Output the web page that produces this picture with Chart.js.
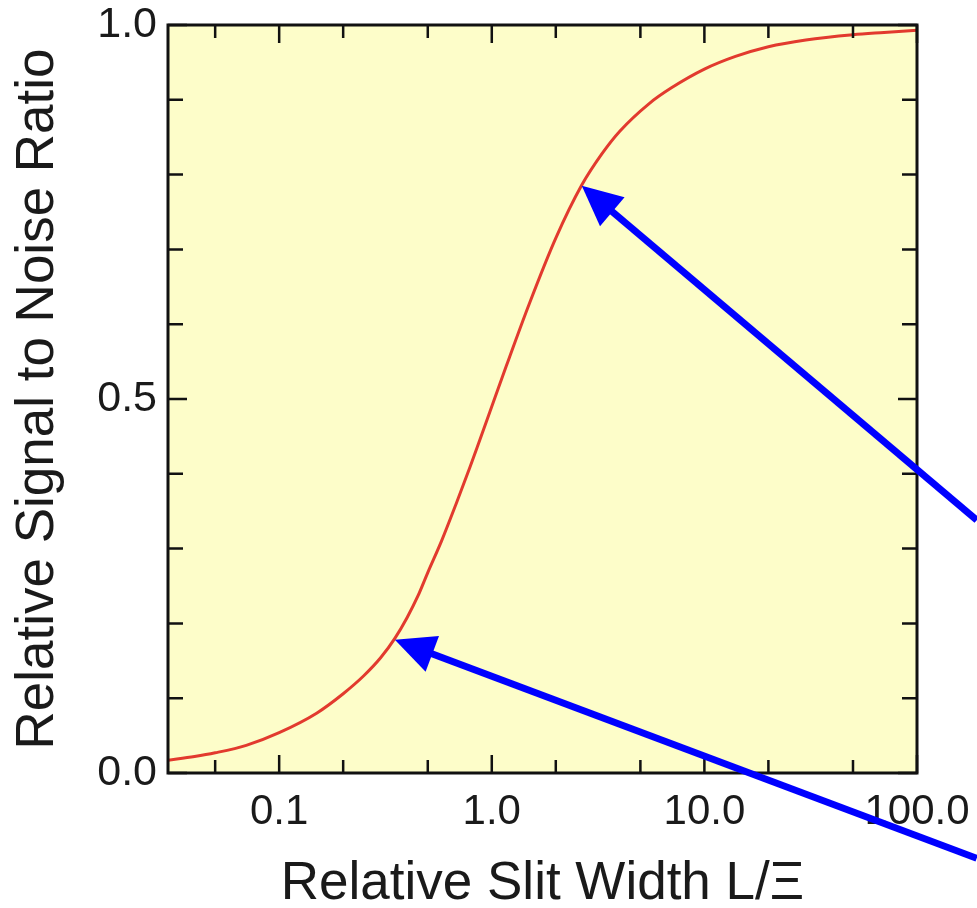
<!DOCTYPE html>
<html>
<head>
<meta charset="utf-8">
<script src="https://cdn.jsdelivr.net/npm/chart.js@4/dist/chart.umd.min.js"></script>
<style>
  html, body { margin: 0; padding: 0; background: #ffffff; }
  #wrap { width: 977px; height: 908px; }
</style>
</head>
<body>
<div id="wrap"><canvas id="c" width="977" height="908"></canvas></div>
<script>
// ---- data ----
const slitWidth = [0.03, 0.04, 0.05, 0.07, 0.1, 0.15, 0.2, 0.25, 0.3, 0.35, 0.4, 0.45, 0.5, 0.58, 0.68, 0.79, 0.88, 0.98, 1.17, 1.5, 2.0, 2.65, 3.3, 4.0, 5.5, 7.0, 10, 14, 20, 30, 50, 70, 100];
const snrRatio  = [0.017, 0.022, 0.027, 0.037, 0.054, 0.080, 0.106, 0.130, 0.154, 0.180, 0.208, 0.237, 0.268, 0.310, 0.360, 0.409, 0.446, 0.483, 0.544, 0.627, 0.715, 0.786, 0.828, 0.858, 0.895, 0.916, 0.941, 0.958, 0.971, 0.980, 0.987, 0.990, 0.993];

const xMajorTicks = [0.1, 1, 10, 100];
const xMinorTicks = [0.05, 0.2, 0.5, 2, 5, 20, 50];
const xTickLabels = ["0.1", "1.0", "10.0", "100.0"];
const yMajorTicks = [0, 0.5, 1];
const yMinorTicks = [0.1, 0.2, 0.3, 0.4, 0.6, 0.7, 0.8, 0.9];
const yTickLabels = ["0.0", "0.5", "1.0"];

// annotation arrows: tip and tail in data coordinates
const arrowTipsX  = [2.65, 0.35];
const arrowTipsY  = [0.785, 0.178];
const arrowTailsX = [191, 191];
const arrowTailsY = [0.338, -0.114];

const BG = '#FDFDC9';
const FONT = "'Liberation Sans', Arial, Helvetica, sans-serif";

const framePlugin = {
  id: 'frame',
  beforeDraw(chart) {
    const a = chart.chartArea, ctx = chart.ctx;
    ctx.save();
    ctx.fillStyle = BG;
    ctx.fillRect(a.left, a.top, a.right - a.left, a.bottom - a.top);
    ctx.restore();
  },
  afterDatasetsDraw(chart) {
    const a = chart.chartArea, ctx = chart.ctx;
    const xs = chart.scales.x, ys = chart.scales.y;
    ctx.save();
    ctx.strokeStyle = '#111111';
    ctx.lineWidth = 3;
    ctx.lineCap = 'butt';
    ctx.strokeRect(a.left, a.top, a.right - a.left, a.bottom - a.top);
    ctx.lineWidth = 2.5;
    const drawX = (vals, len) => {
      vals.forEach(v => {
        const px = xs.getPixelForValue(v);
        ctx.beginPath();
        ctx.moveTo(px, a.bottom); ctx.lineTo(px, a.bottom - len);
        ctx.moveTo(px, a.top); ctx.lineTo(px, a.top + len);
        ctx.stroke();
      });
    };
    const drawY = (vals, len) => {
      vals.forEach(v => {
        const py = ys.getPixelForValue(v);
        ctx.beginPath();
        ctx.moveTo(a.left, py); ctx.lineTo(a.left + len, py);
        ctx.moveTo(a.right, py); ctx.lineTo(a.right - len, py);
        ctx.stroke();
      });
    };
    drawX(xMajorTicks, 18);
    drawX(xMinorTicks, 13);
    drawY(yMajorTicks, 19);
    drawY(yMinorTicks, 15);

    // arrows
    ctx.strokeStyle = '#0000FF';
    ctx.fillStyle = '#0000FF';
    ctx.lineWidth = 7;
    for (let i = 0; i < arrowTipsX.length; i++) {
      const tx = xs.getPixelForValue(arrowTipsX[i]);
      const ty = ys.getPixelForValue(arrowTipsY[i]);
      const ex = xs.getPixelForValue(arrowTailsX[i]);
      const ey = ys.getPixelForValue(arrowTailsY[i]);
      const dx = ex - tx, dy = ey - ty;
      const L = Math.hypot(dx, dy);
      const ux = dx / L, uy = dy / L;
      const headLen = 40, headHalf = 19;
      const bx = tx + ux * headLen, by = ty + uy * headLen;
      ctx.beginPath();
      ctx.moveTo(bx - ux * 4, by - uy * 4);
      ctx.lineTo(ex, ey);
      ctx.stroke();
      ctx.beginPath();
      ctx.moveTo(tx, ty);
      ctx.lineTo(bx - uy * headHalf, by + ux * headHalf);
      ctx.lineTo(bx + uy * headHalf, by - ux * headHalf);
      ctx.closePath();
      ctx.fill();
    }
    ctx.restore();
  }
};

new Chart(document.getElementById('c'), {
  type: 'line',
  data: {
    datasets: [{
      data: slitWidth.map((x, i) => ({ x: x, y: snrRatio[i] })),
      borderColor: '#E23A2E',
      borderWidth: 3,
      pointRadius: 0,
      fill: false,
      cubicInterpolationMode: 'monotone'
    }]
  },
  options: {
    responsive: false,
    animation: false,
    layout: { padding: { left: 0, top: 25, right: 60, bottom: 0 } },
    plugins: { legend: { display: false }, tooltip: { enabled: false } },
    scales: {
      x: {
        type: 'logarithmic',
        min: 0.03,
        max: 100,
        afterBuildTicks(scale) { scale.ticks = xMajorTicks.map(v => ({ value: v })); },
        afterFit(scale) {
          scale.height = 135;
          scale.paddingLeft = 0; scale.paddingRight = 0;
          scale.paddingTop = 0; scale.paddingBottom = 0;
        },
        grid: { display: false, drawTicks: false },
        border: { display: false },
        ticks: {
          color: '#1a1a1a',
          padding: 14,
          maxRotation: 0,
          autoSkip: false,
          font: { family: FONT, size: 42 },
          callback(value) { const i = xMajorTicks.indexOf(value); return i >= 0 ? xTickLabels[i] : ''; }
        },
        title: {
          display: true,
          text: 'Relative Slit Width L/Ξ',
          color: '#1a1a1a',
          font: { family: FONT, size: 53, lineHeight: 0.8 },
          padding: { top: 0, bottom: 2 }
        }
      },
      y: {
        type: 'linear',
        min: 0,
        max: 1,
        afterBuildTicks(scale) { scale.ticks = yMajorTicks.map(v => ({ value: v })); },
        afterFit(scale) {
          scale.width = 168;
          scale.paddingLeft = 0; scale.paddingRight = 0;
          scale.paddingTop = 0; scale.paddingBottom = 0;
        },
        grid: { display: false, drawTicks: false },
        border: { display: false },
        ticks: {
          color: '#1a1a1a',
          padding: 11,
          autoSkip: false,
          font: { family: FONT, size: 43 },
          callback(value) { const i = yMajorTicks.indexOf(value); return i >= 0 ? yTickLabels[i] : ''; }
        },
        title: {
          display: true,
          text: 'Relative Signal to Noise Ratio',
          color: '#1a1a1a',
          font: { family: FONT, size: 53, lineHeight: 0.8 },
          padding: { top: 17, bottom: 0 }
        }
      }
    }
  },
  plugins: [framePlugin]
});
</script>
</body>
</html>
